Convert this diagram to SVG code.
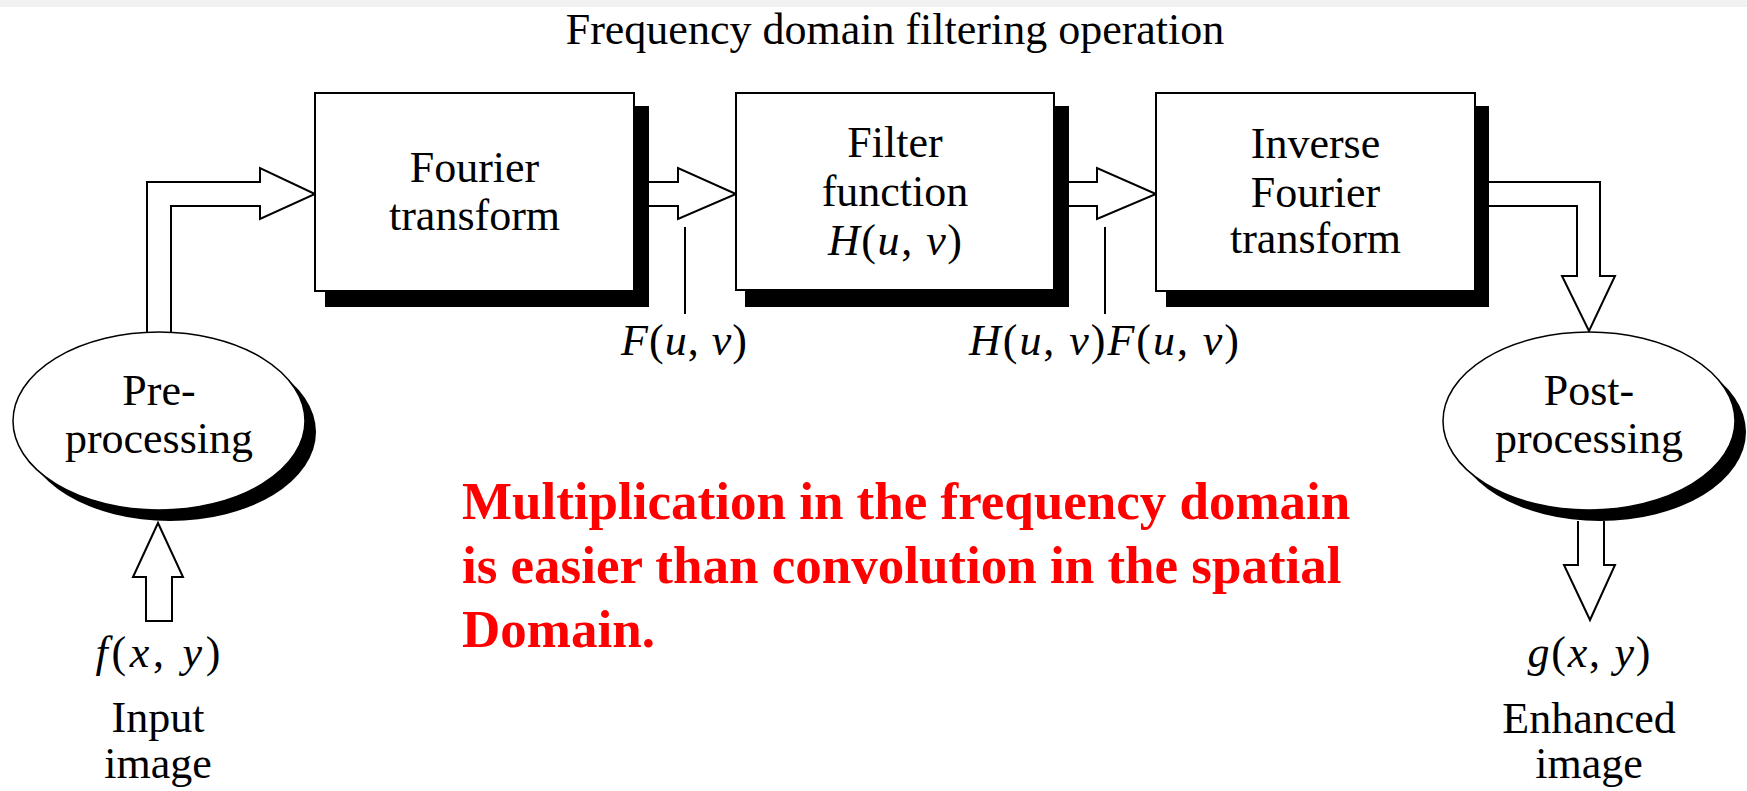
<svg xmlns="http://www.w3.org/2000/svg" width="1747" height="791" viewBox="0 0 1747 791">
<style>
  .t { font-family: "Liberation Serif", "Times New Roman", serif; font-size: 44px; fill: #000; text-anchor: middle; }
  .i { font-style: italic; }
  .box { fill: #fff; stroke: #000; stroke-width: 2; }
  .shadow { fill: #000; }
  .arrow { fill: #fff; stroke: #000; stroke-width: 2; stroke-linejoin: miter; }
  .tick { stroke: #000; stroke-width: 2; fill: none; }
  .note { font-family: "Liberation Serif", "Times New Roman", serif; font-size: 53px; font-weight: bold; fill: #ff0000; }
</style>
<rect x="0" y="0" width="1747" height="791" fill="#fff"/>
<rect x="0" y="0" width="1747" height="7" fill="#f1f1f1"/>

<text id="title" class="t" x="895" y="44">Frequency domain filtering operation</text>

<g id="connectors">
  <path class="arrow" d="M147,332 L147,182 L260,182 L260,168 L315,194 L260,219 L260,206 L171,206 L171,332"/>
  <path class="arrow" d="M634,182 L678,182 L678,168 L736,194 L678,219 L678,206 L634,206"/>
  <path class="arrow" d="M1054,182 L1097,182 L1097,168 L1156,194 L1097,219 L1097,206 L1054,206"/>
  <path class="arrow" d="M1475,182 L1600,182 L1600,276 L1615,276 L1589,331 L1562,276 L1577,276 L1577,206 L1475,206"/>
  <path class="arrow" d="M146,621 L146,577 L133,577 L158,523 L183,577 L172,577 L172,621 Z"/>
  <path class="arrow" d="M1578,521 L1578,565 L1564,565 L1590,620 L1615,565 L1604,565 L1604,521"/>
  <line class="tick" x1="685" y1="227" x2="685" y2="314"/>
  <line class="tick" x1="1105" y1="227" x2="1105" y2="314"/>
</g>

<g id="fourier">
  <rect class="shadow" x="325" y="106" width="324" height="201"/>
  <rect class="box" x="315" y="93" width="319" height="198"/>
  <text class="t" x="474.5" y="182">Fourier</text>
  <text class="t" x="474.5" y="230">transform</text>
</g>

<g id="filter">
  <rect class="shadow" x="745" y="106" width="324" height="201"/>
  <rect class="box" x="736" y="93" width="318" height="197"/>
  <text class="t" x="895" y="157">Filter</text>
  <text class="t" x="895" y="206">function</text>
  <text class="t" x="895" y="255" textLength="134" lengthAdjust="spacing"><tspan class="i">H</tspan>(<tspan class="i">u</tspan>, <tspan class="i">v</tspan>)</text>
</g>

<g id="inverse">
  <rect class="shadow" x="1166" y="106" width="323" height="201"/>
  <rect class="box" x="1156" y="93" width="319" height="198"/>
  <text class="t" x="1315.5" y="158">Inverse</text>
  <text class="t" x="1315.5" y="207">Fourier</text>
  <text class="t" x="1315.5" y="253">transform</text>
</g>

<g id="preprocessing">
  <ellipse class="shadow" cx="170" cy="432" rx="146" ry="89"/>
  <ellipse fill="#fff" stroke="#000" stroke-width="1.5" cx="159" cy="421" rx="146" ry="89"/>
  <text class="t" x="159" y="405">Pre-</text>
  <text class="t" x="159" y="453">processing</text>
</g>

<g id="postprocessing">
  <ellipse class="shadow" cx="1600" cy="432" rx="146" ry="89"/>
  <ellipse fill="#fff" stroke="#000" stroke-width="1.5" cx="1589" cy="421" rx="146" ry="89"/>
  <text class="t" x="1589" y="405">Post-</text>
  <text class="t" x="1589" y="453">processing</text>
</g>

<g id="labels">
  <text class="t" x="684" y="355" textLength="126" lengthAdjust="spacing"><tspan class="i">F</tspan>(<tspan class="i">u</tspan>, <tspan class="i">v</tspan>)</text>
  <text class="t" x="969" y="355" style="text-anchor:start" textLength="270" lengthAdjust="spacing"><tspan class="i">H</tspan>(<tspan class="i">u</tspan>, <tspan class="i">v</tspan>)<tspan class="i">F</tspan>(<tspan class="i">u</tspan>, <tspan class="i">v</tspan>)</text>
</g>

<g id="input">
  <text class="t" x="158" y="667" textLength="125" lengthAdjust="spacing"><tspan class="i">f</tspan>(<tspan class="i">x</tspan>, <tspan class="i">y</tspan>)</text>
  <text class="t" x="158" y="732">Input</text>
  <text class="t" x="158" y="778">image</text>
</g>

<g id="output">
  <text class="t" x="1589" y="667" textLength="123" lengthAdjust="spacing"><tspan class="i">g</tspan>(<tspan class="i">x</tspan>, <tspan class="i">y</tspan>)</text>
  <text class="t" x="1589" y="733">Enhanced</text>
  <text class="t" x="1589" y="778">image</text>
</g>

<g id="note">
  <text class="note" x="462" y="519">Multiplication in the frequency domain</text>
  <text class="note" x="462" y="583">is easier than convolution in the spatial</text>
  <text class="note" x="462" y="647">Domain.</text>
</g>
</svg>
